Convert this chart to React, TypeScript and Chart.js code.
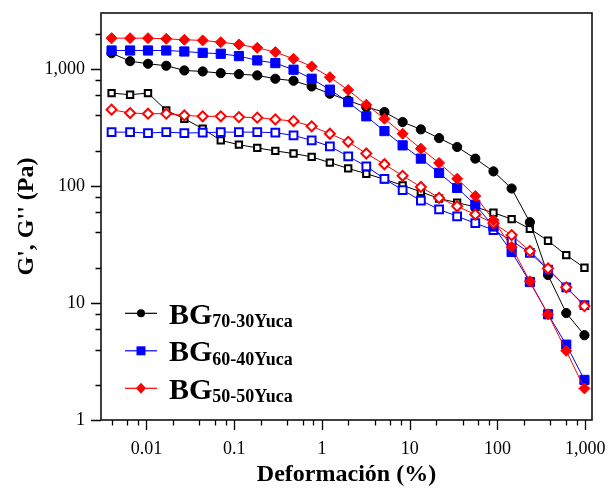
import React, { useEffect, useRef } from 'react';
import { Chart, registerables } from 'chart.js';

Chart.register(...registerables);

// ---- Data ----
const STRAIN = [
  0.004, 0.0065, 0.0104, 0.0168, 0.027, 0.0437, 0.0702, 0.113, 0.183, 0.294,
  0.474, 0.763, 1.23, 1.99, 3.2, 5.15, 8.3, 13.4, 21.6, 34.7,
  55.9, 90, 145, 234, 377, 608, 980,
];

const G1_70_30 = [
  1360, 1163, 1105, 1063, 969, 950, 919, 901, 879, 823,
  791, 707, 613, 537, 471, 427, 351, 304, 256, 215,
  171, 133, 95, 49, 17.3, 8.2, 5.3,
];
const G2_70_30 = [
  621, 601, 621, 442, 375, 308, 245, 225, 211, 199,
  189, 177, 158, 141, 127, 114, 101, 89, 78, 72,
  66, 59, 52, 43, 34, 25.6, 20,
];
const G1_60_40 = [
  1435, 1435, 1435, 1435, 1407, 1370, 1345, 1285, 1181, 1120,
  983, 823, 664, 520, 393, 294, 222, 171, 129, 96,
  69, 45, 27.3, 15.1, 8.0, 4.4, 2.2,
];
const G2_60_40 = [
  288, 288, 283, 288, 283, 285, 288, 288, 288, 285,
  270, 245, 218, 179, 147, 115, 92, 75, 63, 55,
  48, 42, 34, 26.8, 19.3, 13.6, 9.6,
];
const G1_50_50 = [
  1828, 1828, 1828, 1806, 1771, 1750, 1690, 1615, 1513, 1390,
  1219, 1048, 849, 660, 494, 375, 279, 208, 157, 115,
  82, 51, 30, 15.3, 8.0, 3.9, 1.86,
];
const G2_50_50 = [
  448, 419, 414, 414, 400, 393, 393, 387, 383, 370,
  358, 323, 279, 238, 189, 153, 122, 98, 79, 67,
  57, 48, 38, 27.8, 19.7, 13.6, 9.4,
];

const X_TICKS = [0.01, 0.1, 1, 10, 100, 1000];
const X_TICK_LABELS = ['0.01', '0.1', '1', '10', '100', '1,000'];
const Y_TICKS = [1, 10, 100, 1000];
const Y_TICK_LABELS = ['1', '10', '100', '1,000'];
const MINOR_MULTS = [2, 4, 6, 8];

const LEGEND_MAIN = 'BG';
const LEGEND_SUBS = ['70-30Yuca', '60-40Yuca', '50-50Yuca'];

const X_TITLE = 'Deformación (%)';
const Y_TITLE = "G', G'' (Pa)";

const FONT = '"Liberation Serif", "Times New Roman", serif';

const BLACK = '#000000';
const BLUE = '#0000ff';
const RED = '#ff0000';

const toPoints = (ys: number[]) => STRAIN.map((x, i) => ({ x, y: ys[i] }));

const framePlugin = {
  id: 'frameAndLegend',
  afterDraw(chart: any) {
    const { ctx, chartArea: a, scales } = chart;
    const xs = scales.x;
    const ys = scales.y;
    ctx.save();
    // tick marks (outward)
    ctx.strokeStyle = '#000';
    ctx.lineWidth = 1.3;
    ctx.beginPath();
    for (let e = -4; e <= 4; e++) {
      const d = Math.pow(10, e);
      const mults = [1, ...MINOR_MULTS];
      for (const m of mults) {
        const v = d * m;
        const len = m === 1 ? 10 : 5.5;
        if (v >= xs.min && v <= xs.max) {
          const px = Math.round(xs.getPixelForValue(v)) + 0.5;
          ctx.moveTo(px, a.bottom);
          ctx.lineTo(px, a.bottom + len);
        }
        if (v >= ys.min && v <= ys.max) {
          const py = Math.round(ys.getPixelForValue(v)) + 0.5;
          ctx.moveTo(a.left, py);
          ctx.lineTo(a.left - len, py);
        }
      }
    }
    ctx.stroke();
    // frame
    ctx.lineWidth = 1.6;
    ctx.strokeStyle = '#111';
    ctx.strokeRect(a.left, a.top, a.right - a.left, a.bottom - a.top);

    // legend
    const rows = [
      { color: BLACK, shape: 'circle', dy: -106.7 },
      { color: BLUE, shape: 'square', dy: -69.2 },
      { color: RED, shape: 'diamond', dy: -31.7 },
    ];
    rows.forEach((r, i) => {
      const y = a.bottom + r.dy;
      const x0 = a.left + 24;
      const x1 = a.left + 56;
      const mx = a.left + 40;
      ctx.strokeStyle = r.color;
      ctx.lineWidth = 1.2;
      ctx.beginPath();
      ctx.moveTo(x0, y);
      ctx.lineTo(x1, y);
      ctx.stroke();
      ctx.fillStyle = r.color;
      ctx.beginPath();
      if (r.shape === 'circle') {
        ctx.arc(mx, y, 4, 0, Math.PI * 2);
      } else if (r.shape === 'square') {
        ctx.rect(mx - 4.5, y - 4.5, 9, 9);
      } else {
        ctx.moveTo(mx, y - 5.5);
        ctx.lineTo(mx + 5, y);
        ctx.lineTo(mx, y + 5.5);
        ctx.lineTo(mx - 5, y);
        ctx.closePath();
      }
      ctx.fill();
      const tx = a.left + 68;
      const base = y + 10.5;
      ctx.fillStyle = '#000';
      ctx.textBaseline = 'alphabetic';
      ctx.textAlign = 'left';
      ctx.font = `bold 30px ${FONT}`;
      ctx.fillText(LEGEND_MAIN, tx, base);
      const w = ctx.measureText(LEGEND_MAIN).width;
      ctx.font = `bold 18px ${FONT}`;
      ctx.fillText(LEGEND_SUBS[i], tx + w, base + 3.5);
    });
    ctx.restore();
  },
};

export default function App() {
  const ref = useRef<HTMLCanvasElement | null>(null);

  useEffect(() => {
    if (!ref.current) return;
    const common = { borderWidth: 1, tension: 0, fill: false };
    const chart = new Chart(ref.current, {
      type: 'line',
      data: {
        datasets: [
          {
            ...common,
            label: 'BG 50-50Yuca G\'',
            data: toPoints(G1_50_50),
            borderColor: RED,
            backgroundColor: RED,
            pointStyle: 'rectRot',
            pointRadius: 5.5,
            pointBorderWidth: 1,
            pointBackgroundColor: RED,
            pointBorderColor: RED,
          },
          {
            ...common,
            label: 'BG 50-50Yuca G\'\'',
            data: toPoints(G2_50_50),
            borderColor: RED,
            backgroundColor: '#fff',
            pointStyle: 'rectRot',
            pointRadius: 5,
            pointBorderWidth: 2,
            pointBackgroundColor: '#fff',
            pointBorderColor: RED,
          },
          {
            ...common,
            label: 'BG 60-40Yuca G\'',
            data: toPoints(G1_60_40),
            borderColor: BLUE,
            backgroundColor: BLUE,
            pointStyle: 'rect',
            pointRadius: 6.5,
            pointBorderWidth: 1,
            pointBackgroundColor: BLUE,
            pointBorderColor: BLUE,
          },
          {
            ...common,
            label: 'BG 60-40Yuca G\'\'',
            data: toPoints(G2_60_40),
            borderColor: BLUE,
            backgroundColor: '#fff',
            pointStyle: 'rect',
            pointRadius: 5.5,
            pointBorderWidth: 2,
            pointBackgroundColor: '#fff',
            pointBorderColor: BLUE,
          },
          {
            ...common,
            label: 'BG 70-30Yuca G\'',
            data: toPoints(G1_70_30),
            borderColor: BLACK,
            backgroundColor: BLACK,
            pointStyle: 'circle',
            pointRadius: 4.6,
            pointBorderWidth: 1,
            pointBackgroundColor: BLACK,
            pointBorderColor: BLACK,
          },
          {
            ...common,
            label: 'BG 70-30Yuca G\'\'',
            data: toPoints(G2_70_30),
            borderColor: BLACK,
            backgroundColor: '#fff',
            pointStyle: 'rect',
            pointRadius: 4.5,
            pointBorderWidth: 2,
            pointBackgroundColor: '#fff',
            pointBorderColor: BLACK,
          },
        ],
      },
      options: {
        animation: false,
        responsive: false,
        devicePixelRatio: 1,
        layout: { padding: { top: 13, right: 21, left: 0, bottom: 0 } },
        plugins: {
          legend: { display: false },
          tooltip: { enabled: false },
        },
        scales: {
          x: {
            type: 'logarithmic',
            position: 'bottom',
            min: 0.00303,
            max: 1195,
            afterFit: (s: any) => {
              s.height = 73;
              s.paddingLeft = 0;
              s.paddingRight = 0;
              s.paddingTop = 0;
              s.paddingBottom = 0;
            },
            afterBuildTicks: (s: any) => {
              s.ticks = X_TICKS.map((v) => ({ value: v }));
            },
            grid: { display: false, drawTicks: false },
            border: { display: false },
            ticks: {
              autoSkip: false,
              maxRotation: 0,
              minRotation: 0,
              padding: 18,
              color: '#000',
              font: { family: FONT, size: 18 },
              callback: (_v: any, i: number) => X_TICK_LABELS[i],
            },
            title: {
              display: true,
              text: X_TITLE,
              color: '#000',
              font: { family: FONT, size: 24, weight: 'bold', lineHeight: 1.2 },
              padding: { top: 0, bottom: 4 },
            },
          },
          y: {
            type: 'logarithmic',
            position: 'left',
            min: 1,
            max: 3000,
            afterFit: (s: any) => {
              s.width = 101;
              s.paddingLeft = 0;
              s.paddingRight = 0;
              s.paddingTop = 0;
              s.paddingBottom = 0;
            },
            afterBuildTicks: (s: any) => {
              s.ticks = Y_TICKS.map((v) => ({ value: v }));
            },
            grid: { display: false, drawTicks: false },
            border: { display: false },
            ticks: {
              autoSkip: false,
              padding: 16,
              color: '#000',
              font: { family: FONT, size: 18 },
              callback: (_v: any, i: number) => Y_TICK_LABELS[i],
            },
            title: {
              display: true,
              text: Y_TITLE,
              color: '#000',
              font: { family: FONT, size: 24, weight: 'bold', lineHeight: 1.2 },
              padding: { top: 12.5, bottom: 0 },
            },
          },
        },
      } as any,
      plugins: [framePlugin],
    });
    return () => chart.destroy();
  }, []);

  return (
    <div style={{ position: 'absolute', left: 0, top: 0, width: 613, height: 493, background: '#fff' }}>
      <canvas ref={ref} width={613} height={493} style={{ display: 'block' }} />
    </div>
  );
}
